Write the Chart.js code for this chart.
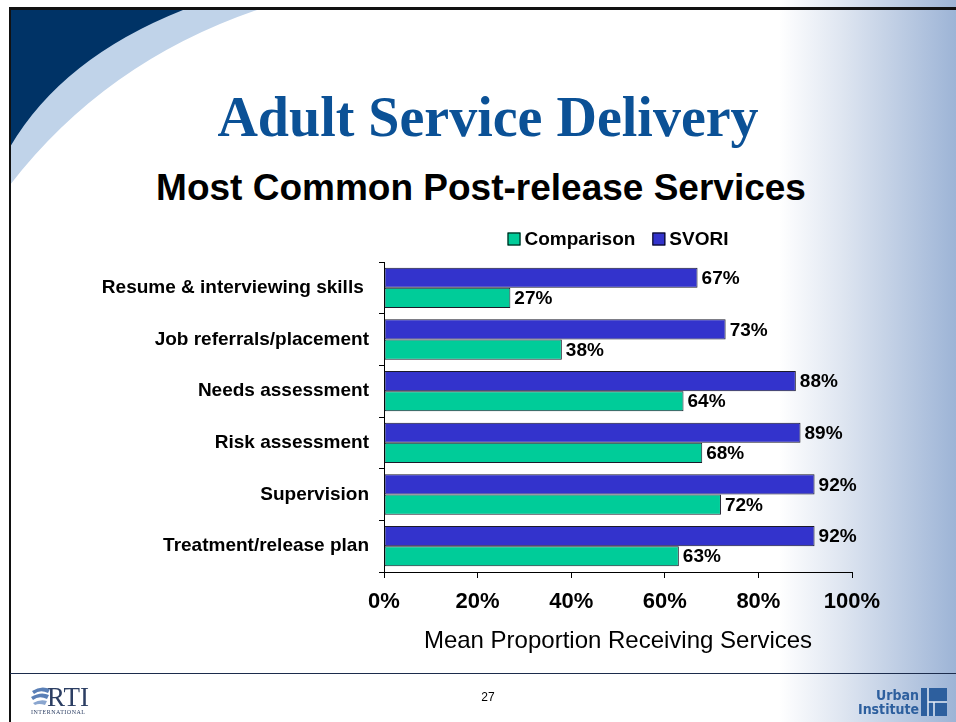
<!DOCTYPE html>
<html>
<head>
<meta charset="utf-8">
<title>Adult Service Delivery</title>
<script src="https://cdn.jsdelivr.net/npm/chart.js@4"></script>
<style>
  html, body { margin: 0; padding: 0; }
  body { width: 956px; height: 722px; overflow: hidden; position: relative; background: #fff;
         font-family: "Liberation Sans", Arial, sans-serif; }
  .layer { position: absolute; }
  #shade { left: 0; top: 0; width: 956px; height: 722px;
           background: linear-gradient(90deg, #ffffff 0, #ffffff 81.5%, #dfe6f1 88%, #9db4d6 100%); }
  #frameTop { left: 9px; top: 7px; width: 947px; height: 3px; background: #111; }
  #frameLeft { left: 9px; top: 7px; width: 2px; height: 715px; background: #111; }
  #footLine { left: 10px; top: 673px; width: 946px; height: 1px; background: #1c2c4c; }
  #title { left: 0; top: 84px; width: 976px; text-align: center;
           font: bold 56px "Liberation Serif", "Times New Roman", serif; color: #0b5196; line-height: 66px; }
  #subtitle { left: 0; top: 166px; width: 962px; text-align: center;
              font: bold 37px "Liberation Sans", Arial, sans-serif; color: #000; line-height: 44px; }
  #pageNo { left: 0; top: 690px; width: 976px; text-align: center; font: 12px "Liberation Sans", Arial, sans-serif; color: #000; }
  #chartBox { left: 0; top: 0; width: 956px; height: 722px; }
</style>
</head>
<body>
<div id="shade" class="layer"></div>

<!-- corner swoosh -->
<svg class="layer" style="left:0;top:0" width="300" height="200">
  <path d="M10,10 L257,10 Q105,62 10,185 Z" fill="#c0d3e9"/>
  <path d="M10,10 L183,10 Q62,58 10,147 Z" fill="#003366"/>
</svg>

<div id="frameTop" class="layer"></div>
<div id="frameLeft" class="layer"></div>
<div id="footLine" class="layer"></div>

<div id="title" class="layer">Adult Service Delivery</div>
<div id="subtitle" class="layer">Most Common Post-release Services</div>

<div id="chartBox" class="layer"><canvas id="chart"></canvas></div>

<!-- footer logos -->
<svg class="layer" style="left:28px;top:684px" width="74" height="34">
  <path d="M4,7 Q13,1 22,5 L20,9 Q12,5 6,10 Z" fill="#5a7fb6"/>
  <path d="M3,13 Q13,7 21,11 L19,15 Q11,11 5,16 Z" fill="#5a7fb6"/>
  <path d="M5,19 Q12,15 19,17 L17,21 Q11,19 7,21 Z" fill="#8aa6cf"/>
  <text x="19" y="22" font-family="Liberation Serif, serif" font-size="27" fill="#2c3e63">RTI</text>
  <text x="3" y="30" font-family="Liberation Serif, serif" font-size="6" letter-spacing="0.5" fill="#2c3e63">INTERNATIONAL</text>
</svg>
<div id="pageNo" class="layer">27</div>
<svg class="layer" style="left:848px;top:684px" width="104" height="36">
  <text x="71" y="16" text-anchor="end" font-family="DejaVu Sans Condensed, sans-serif" font-weight="bold" font-size="14" fill="#2d5f9e">Urban</text>
  <text x="71" y="30" text-anchor="end" font-family="DejaVu Sans Condensed, sans-serif" font-weight="bold" font-size="14" fill="#2d5f9e">Institute</text>
  <rect x="73" y="4" width="26" height="28" fill="#2d5f9e"/>
  <path d="M80,4 V32 M80,18 H99 M86,18 V32" stroke="#e8eef7" stroke-width="1.5" fill="none"/>
</svg>

<script>
/* ── Données ──────────────────────────────────────────────── */
const categories = [
  'Resume & interviewing skills ',
  'Job referrals/placement',
  'Needs assessment',
  'Risk assessment',
  'Supervision',
  'Treatment/release plan',
];
const svoriValues      = [67, 73, 88, 89, 92, 92];
const comparisonValues = [27, 38, 64, 68, 72, 63];
const xTickValues      = [0, 20, 40, 60, 80, 100];
const seriesNames      = ['SVORI', 'Comparison'];
const axisTitle        = 'Mean Proportion Receiving Services';

const couleurSvori      = '#3333cc';
const couleurComparison = '#00cc99';
const police            = '"Liberation Sans", Arial, sans-serif';

/* ── Étiquettes de valeur au bout des barres ─────────────── */
const etiquettesValeurs = {
  id: 'etiquettesValeurs',
  afterDatasetsDraw(chart) {
    const ctx = chart.ctx;
    ctx.save();
    ctx.font = `bold 19px ${police}`;
    ctx.fillStyle = '#000';
    ctx.textAlign = 'left';
    ctx.textBaseline = 'middle';
    chart.data.datasets.forEach((ds, i) => {
      chart.getDatasetMeta(i).data.forEach((bar, j) => {
        ctx.fillText(ds.data[j] + '%', bar.x + 4, bar.y + 1);
      });
    });
    ctx.restore();
  },
};

/* ── Légende centrée au-dessus de la zone de tracé ───────── */
const legendeHaut = {
  id: 'legendeHaut',
  afterDraw(chart) {
    const ctx = chart.ctx;
    const area = chart.chartArea;
    /* ordre inverse : Comparison puis SVORI */
    const items = chart.data.datasets.map(ds => ({ label: ds.label, color: ds.backgroundColor })).reverse();
    const box = 13, gap = 4, spacing = 17;
    ctx.save();
    ctx.font = `bold 19px ${police}`;
    const widths = items.map(it => ctx.measureText(it.label).width);
    const total = widths.reduce((s, w) => s + box + gap + w, 0) + spacing * (items.length - 1);
    let x = (area.left + area.right) / 2 - total / 2;
    const y = 239;
    items.forEach((it, k) => {
      ctx.fillStyle = it.color;
      ctx.fillRect(x, y - box / 2, box, box);
      ctx.strokeStyle = '#000';
      ctx.lineWidth = 1;
      ctx.strokeRect(x + 0.5, y - box / 2 + 0.5, box - 1, box - 1);
      ctx.fillStyle = '#000';
      ctx.textBaseline = 'middle';
      ctx.fillText(it.label, x + box + gap, y + 1);
      x += box + gap + widths[k] + spacing;
    });
    ctx.restore();
  },
};

new Chart(document.getElementById('chart'), {
  type: 'bar',
  data: {
    labels: categories,
    datasets: [
      {
        label: seriesNames[0],
        data: svoriValues,
        backgroundColor: couleurSvori,
        borderColor: '#1a1a2a',
        borderWidth: 1,
        borderSkipped: false,
      },
      {
        label: seriesNames[1],
        data: comparisonValues,
        backgroundColor: couleurComparison,
        borderColor: '#1a1a2a',
        borderWidth: 1,
        borderSkipped: false,
      },
    ],
  },
  options: {
    indexAxis: 'y',
    responsive: true,
    maintainAspectRatio: false,
    animation: false,
    categoryPercentage: 0.78,
    barPercentage: 1,
    layout: { padding: { top: 262, right: 104, bottom: 0, left: 0 } },
    plugins: {
      legend: { display: false },
      tooltip: { enabled: false },
    },
    scales: {
      x: {
        min: 0,
        max: 100,
        afterBuildTicks: s => { s.ticks = xTickValues.map(v => ({ value: v })); },
        afterFit: s => { s.height = 150; },
        ticks: {
          color: '#000',
          font: { family: police, size: 22, weight: 'bold' },
          padding: 11,
          callback: v => v + '%',
        },
        grid: { drawOnChartArea: false, drawTicks: true, tickLength: 6, color: '#000' },
        border: { color: '#000', width: 1 },
        title: {
          display: true,
          text: axisTitle,
          color: '#000',
          font: { family: police, size: 24 },
          padding: { top: 0, bottom: 66 },
        },
      },
      y: {
        afterFit: s => { s.width = 384; },
        ticks: {
          color: '#000',
          font: { family: police, size: 19, weight: 'bold' },
          padding: 10,
        },
        grid: { drawOnChartArea: false, drawTicks: true, tickLength: 5, offset: true, color: '#000' },
        border: { color: '#000', width: 1 },
      },
    },
  },
  plugins: [etiquettesValeurs, legendeHaut],
});
</script>
</body>
</html>
